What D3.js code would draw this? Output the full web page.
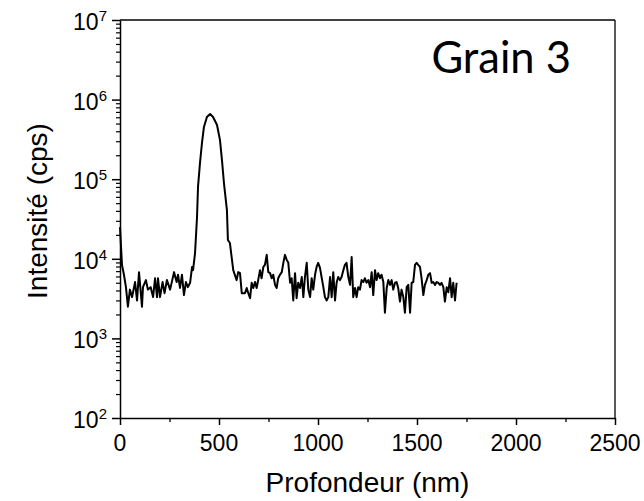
<!DOCTYPE html>
<html>
<head>
<meta charset="utf-8">
<script src="https://cdn.jsdelivr.net/npm/d3@7"></script>
<style>
  body { margin: 0; background: #fff; }
  svg { display: block; }
</style>
</head>
<body>
<div id="chart"></div>
<script>
// depth (nm) and intensity (cps)
var depth = [0, 10, 20, 30, 40, 50, 61, 76, 86, 96, 111, 116, 131, 141, 155, 167, 177, 187, 192, 202,
  215, 225, 237, 253, 273, 286, 293, 303, 313, 323, 333, 343, 354, 364, 369, 379, 389, 394, 404, 414,
  424, 439, 455, 470, 490, 505, 515, 525, 540, 545, 555,
  572, 589, 597, 606, 615, 631, 640, 648, 657, 665, 673, 682, 690, 698, 707, 715, 724, 732, 741, 749,
  758, 766, 774, 783, 791, 799, 808, 817, 825, 833, 842, 850, 859, 867, 875, 884, 892, 900, 909, 918,
  926, 934, 943, 951, 960, 968, 976, 985, 993, 1001, 1010, 1018, 1027, 1035, 1044, 1052, 1061, 1069,
  1077, 1086, 1094, 1102, 1111, 1119, 1128, 1136, 1144, 1153, 1162, 1170, 1178, 1187, 1195, 1203,
  1212, 1220, 1229, 1237, 1245, 1254, 1263, 1271, 1279, 1288, 1296, 1304, 1313, 1321, 1330, 1338,
  1347, 1355, 1364, 1372, 1380, 1389, 1397, 1405, 1414, 1422, 1431, 1439, 1448, 1456, 1465, 1473,
  1481, 1490, 1498, 1506, 1515, 1523, 1532, 1540, 1549, 1557, 1566, 1574, 1582, 1591, 1599, 1607,
  1616, 1624, 1633, 1641, 1650, 1658, 1667, 1675, 1683, 1692, 1700];

var intensite = [25000, 8400, 6300, 4400, 2500, 4100, 3300, 5100, 3000, 6800, 2500, 4400, 5400, 4100, 4400, 3300, 5700, 3300, 5700, 3300,
  5100, 3700, 5400, 4100, 6800, 5100, 6300, 4300, 6300, 3500, 5100, 4400, 5000, 7900, 7200, 11800, 33500, 80000, 160000, 285000,
  453000, 604000, 659000, 604000, 480000, 310000, 174000, 89500, 41000, 17200, 15800,
  7200, 5400, 6800, 6600, 3700, 3700, 4300, 3700, 3200, 5000, 4300, 5100, 4300, 5400, 7200, 5700, 7900, 8400, 11200, 6800,
  6600, 5700, 6300, 4700, 4300, 5700, 6300, 6800, 8900, 11200, 9700, 8900, 5000, 5700, 3000, 6600, 3200, 5000, 4300, 5900,
  3300, 5900, 8900, 4100, 3300, 5700, 4100, 6300, 7900, 8900, 7700, 5900, 4400, 3300, 3000, 3300, 5900, 3300,
  6800, 3000, 5000, 5900, 5400, 5900, 7200, 8400, 8900, 5900, 4700, 10500, 3300, 4300, 3300, 4400,
  4100, 5400, 5100, 5700, 5000, 5400, 4400, 6800, 3500, 7200, 5400, 6600, 5700, 6300, 5100, 2100,
  4300, 5400, 4700, 5400, 4100, 5000, 5100, 4300, 2900, 4100, 3300, 2100, 4400, 4700, 2100, 5000,
  5100, 8400, 8900, 8400, 7900, 5700, 3500, 4700, 5400, 6300, 6600, 5000, 5100, 4700, 5100, 5000,
  4700, 5000, 4400, 2900, 4400, 3800, 5700, 3300, 5000, 3000, 5000];

var xTicks = [0, 500, 1000, 1500, 2000, 2500];
var xMinorTicks = [250, 750, 1250, 1750, 2250];
var yExponents = [2, 3, 4, 5, 6, 7];
var titre = "Grain 3";

function drawChart(elementid) {
    var W = 644, H = 501;
    var mLeft = 120, mRight = 615, mTop = 20, mBottom = 418;
    var font = "'Liberation Sans', Arial, sans-serif";

    var svg = d3.select(elementid).append("svg")
        .attr("width", W)
        .attr("height", H);

    var x = d3.scaleLinear().domain([0, 2500]).range([mLeft, mRight]);
    var y = d3.scaleLog().domain([1e2, 1e7]).range([mBottom, mTop]);

    var yMajor = yExponents.map(function(e) { return Math.pow(10, e); });
    var yMinor = [];
    yExponents.slice(0, -1).forEach(function(e) {
        for (var k = 2; k <= 9; k++) yMinor.push(k * Math.pow(10, e));
    });

    // frame top / right
    svg.append("line")
        .attr("x1", mLeft).attr("x2", mRight).attr("y1", mTop).attr("y2", mTop)
        .attr("stroke", "#000").attr("stroke-width", 1.3);
    svg.append("line")
        .attr("x1", mRight).attr("x2", mRight).attr("y1", mTop).attr("y2", mBottom)
        .attr("stroke", "#000").attr("stroke-width", 1.3);

    // x axis
    svg.append("g")
        .attr("transform", "translate(0," + mBottom + ")")
        .call(d3.axisBottom(x).tickValues(xTicks).tickSize(7).tickSizeOuter(0).tickFormat(""))
        .call(function(g) { g.selectAll(".domain, .tick line").attr("stroke", "#000").attr("stroke-width", 1.5); });
    svg.append("g")
        .attr("transform", "translate(0," + mBottom + ")")
        .call(d3.axisBottom(x).tickValues(xMinorTicks).tickSize(4).tickSizeOuter(0).tickFormat(""))
        .call(function(g) {
            g.select(".domain").remove();
            g.selectAll(".tick line").attr("stroke", "#000").attr("stroke-width", 1.3);
        });

    svg.append("g").selectAll("text")
        .data(xTicks)
        .enter().append("text")
        .attr("x", function(d) { return x(d); })
        .attr("y", 451)
        .attr("text-anchor", "middle")
        .attr("font-family", font)
        .attr("font-size", "23px")
        .attr("fill", "#000")
        .text(function(d) { return d; });

    // y axis
    svg.append("g")
        .attr("transform", "translate(" + mLeft + ",0)")
        .call(d3.axisLeft(y).tickValues(yMajor).tickSize(8).tickSizeOuter(0).tickFormat(""))
        .call(function(g) { g.selectAll(".domain, .tick line").attr("stroke", "#000").attr("stroke-width", 1.5); });
    svg.append("g")
        .attr("transform", "translate(" + mLeft + ",0)")
        .call(d3.axisLeft(y).tickValues(yMinor).tickSize(4).tickSizeOuter(0).tickFormat(""))
        .call(function(g) {
            g.select(".domain").remove();
            g.selectAll(".tick line").attr("stroke", "#000").attr("stroke-width", 1.2);
        });

    var ylab = svg.append("g").selectAll("text")
        .data(yExponents)
        .enter().append("text")
        .attr("x", 107)
        .attr("y", function(e) { return y(Math.pow(10, e)) + 10; })
        .attr("text-anchor", "end")
        .attr("font-family", font)
        .attr("font-size", "23px")
        .attr("fill", "#000");
    ylab.append("tspan").text("10");
    ylab.append("tspan")
        .attr("font-size", "15px")
        .attr("dy", -9)
        .text(function(e) { return e; });

    // profile
    var line = d3.line()
        .x(function(d, i) { return x(depth[i]); })
        .y(function(d) { return y(d); });

    svg.append("path")
        .datum(intensite)
        .attr("d", line)
        .attr("fill", "none")
        .attr("stroke", "#000")
        .attr("stroke-width", 2)
        .attr("stroke-linejoin", "round");

    // axis titles
    svg.append("text")
        .attr("x", (mLeft + mRight) / 2)
        .attr("y", 492)
        .attr("text-anchor", "middle")
        .attr("font-family", font)
        .attr("font-size", "28px")
        .text("Profondeur (nm)");

    svg.append("text")
        .attr("transform", "translate(47,211) rotate(-90)")
        .attr("text-anchor", "middle")
        .attr("font-family", font)
        .attr("font-size", "28px")
        .text("Intensité (cps)");

    svg.append("text")
        .attr("x", 571)
        .attr("y", 73)
        .attr("text-anchor", "end")
        .attr("font-family", "Lato, 'Open Sans', sans-serif")
        .attr("font-size", "43.5px")
        .text(titre);
}

drawChart("#chart");
</script>
</body>
</html>
